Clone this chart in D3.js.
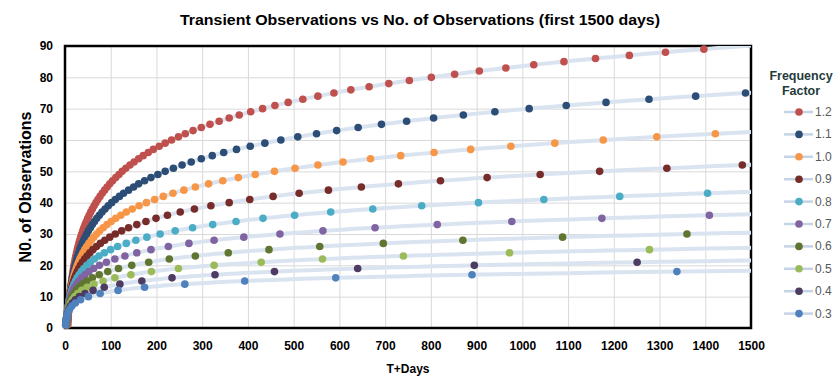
<!DOCTYPE html>
<html>
<head>
<meta charset="utf-8">
<script src="https://cdn.jsdelivr.net/npm/d3@7"></script>
<style>
  body { margin: 0; background: #fff; }
  text { font-family: "Liberation Sans", Arial, sans-serif; }
</style>
</head>
<body>
<svg id="chart" width="837" height="388"></svg>
<script>
// frequency factors (legend order) and their marker colours
const factors = ["1.2", "1.1", "1.0", "0.9", "0.8", "0.7", "0.6", "0.5", "0.4", "0.3"];
const colors = ["#c0504d", "#2c4d75", "#f79646", "#772c2a", "#4bacc6",
                "#8064a2", "#5f7530", "#9bbb59", "#4d3b62", "#4f81bd"];

// day (T+) of the 1st, 2nd, 3rd ... observation for each factor
const days12 = [6.1,6.5,6.9,7.3,7.8,8.3,8.8,9.4,10.0,10.6,11.3,12.0,12.7,13.6,14.4,15.3,16.3,17.4,18.5,19.6,
  20.9,22.2,23.6,25.1,26.8,28.5,30.3,32.2,34.3,36.4,38.8,41.2,43.9,46.7,49.6,52.8,56.2,59.7,63.6,67.6,
  71.9,76.5,81.4,86.6,92.1,97.9,104,111,118,125,133,142,151,161,171,182,193,206,219,233,
  248,263,280,298,317,337,359,381,406,432,459,488,520,553,588,625,665,708,753,801,
  852,906,964,1025,1091,1160,1234,1313,1397];
const days11 = [5.1,5.6,6.0,6.5,7.0,7.5,8.1,8.8,9.5,10.2,11.1,11.9,12.9,13.9,15.0,16.2,17.5,18.9,20.4,22.0,
  23.8,25.7,27.7,29.9,32.3,34.9,37.7,40.7,43.9,47.4,51.2,55.3,59.7,64.4,69.5,75.1,81.0,87.5,94.5,102,
  110,119,128,139,150,161,174,188,203,219,237,256,276,298,322,347,375,405,437,472,
  509,550,594,641,692,747,806,871,940,1015,1096,1183,1277,1379,1488];
const days10 = [4.5,4.9,5.4,5.9,6.5,7.2,7.9,8.6,9.5,10.4,11.5,12.6,13.9,15.2,16.8,18.4,20.2,22.2,24.5,26.9,
  29.5,32.5,35.7,39.2,43.1,47.4,52.1,57.2,62.9,69.1,76.0,83.5,91.8,101,111,122,134,147,162,178,
  196,215,236,260,285,314,345,379,416,458,503,553,608,668,734,807,887,975,1071,1177,1294,1422];
const days09 = [3.6,4.0,4.5,5.1,5.7,6.5,7.3,8.2,9.2,10.4,11.7,13.1,14.8,16.6,18.7,21.1,23.7,26.7,30.0,33.8,
  38.0,42.8,48.2,54.2,61.0,68.7,77.3,86.9,97.9,110,124,139,157,177,199,224,252,283,319,359,
  404,455,512,576,648,729,821,923,1039,1169,1316,1481];
const days08 = [2.9,3.4,3.9,4.5,5.3,6.1,7.1,8.2,9.5,11.0,12.7,14.7,17.1,19.8,22.9,26.5,30.7,35.6,41.2,47.7,
  55.3,64.1,74.2,86.0,99.6,115,134,155,179,208,241,279,323,374,433,502,581,673,780,904,1047,1213,1405];
const days07 = [2.3,2.8,3.4,4.0,4.8,5.8,7.0,8.4,10.1,12.1,14.5,17.4,20.9,25.2,30.2,36.3,43.6,52.3,62.8,75.4,
  90.5,109,131,157,188,226,271,326,391,470,564,678,814,977,1174,1409];
const days06 = [2.1,2.6,3.3,4.1,5.1,6.4,8.0,10.0,12.5,15.7,19.6,24.5,30.6,38.3,47.8,59.8,74.8,93.5,117,146,
  183,228,285,357,446,557,696,870,1088,1360];
const days05 = [1.8,2.4,3.1,4.1,5.4,7.1,9.4,12.3,16.2,21.3,27.9,36.7,48.2,63.4,83.3,109,144,189,248,326,
  429,563,740,972,1278];
const days04 = [1.5,2.2,3.0,4.2,5.9,8.2,11.5,16.1,22.5,31.4,43.9,61.4,85.8,120,168,234,328,458,640,895,1251];
const days03 = [1.3,2.0,2.9,4.4,6.7,10.0,15.0,22.6,34.0,51.2,76.9,116,174,262,393,592,890,1338];

const dayLists = [days12, days11, days10, days09, days08, days07, days06, days05, days04, days03];

let series = factors.map(function(f, i){
  return {
    factor: f,
    color: colors[i],
    points: dayLists[i].map(function(t, j){ return {t: t, n: j + 1}; })
  };
});

const svg = d3.select("#chart");
const margin = {left: 65, right: 86, top: 46, bottom: 60};
const width = 837 - margin.left - margin.right;
const height = 388 - margin.top - margin.bottom;

let x = d3.scaleLinear().domain([0, 1500]).range([margin.left, margin.left + width]);
let y = d3.scaleLinear().domain([0, 90]).range([margin.top + height, margin.top]);

svg.append("defs").append("clipPath").attr("id", "plotClip")
  .append("rect")
    .attr("x", margin.left).attr("y", margin.top)
    .attr("width", width).attr("height", height);

// gridlines
svg.append("g")
    .attr("transform", "translate(0," + (margin.top + height) + ")")
    .call(d3.axisBottom(x).ticks(15).tickSize(-height).tickFormat(""))
    .call(function(g){ g.select(".domain").remove(); })
    .selectAll("line").attr("stroke", "#d9d9d9");
svg.append("g")
    .attr("transform", "translate(" + margin.left + ",0)")
    .call(d3.axisLeft(y).ticks(9).tickSize(-width).tickFormat(""))
    .call(function(g){ g.select(".domain").remove(); })
    .selectAll("line").attr("stroke", "#d9d9d9");

// tick labels
let xAxis = svg.append("g")
    .attr("transform", "translate(0," + (margin.top + height) + ")")
    .call(d3.axisBottom(x).ticks(15).tickSize(0).tickPadding(13).tickFormat(d3.format("d")));
xAxis.select(".domain").remove();
xAxis.selectAll("text")
    .style("font-family", "'Liberation Sans', Arial, sans-serif")
    .style("font-size", "12px").style("font-weight", "bold").attr("fill", "#000");

let yAxis = svg.append("g")
    .attr("transform", "translate(" + margin.left + ",0)")
    .call(d3.axisLeft(y).ticks(9).tickSize(0).tickPadding(12));
yAxis.select(".domain").remove();
yAxis.selectAll("text")
    .style("font-family", "'Liberation Sans', Arial, sans-serif")
    .style("font-size", "12px").style("font-weight", "bold").attr("fill", "#000");

// plot frame
svg.append("rect")
    .attr("x", margin.left).attr("y", margin.top)
    .attr("width", width).attr("height", height)
    .attr("fill", "none").attr("stroke", "#000").attr("stroke-width", 2.5);

// logarithmic trendline per series (least squares, like the spreadsheet)
function logFit(pts){
  let n = pts.length, sx = 0, sy = 0, sxx = 0, sxy = 0;
  pts.forEach(function(p){
    let lx = Math.log(p.t);
    sx += lx; sy += p.n; sxx += lx * lx; sxy += lx * p.n;
  });
  let c = (n * sxy - sx * sy) / (n * sxx - sx * sx);
  let b = (sy - c * sx) / n;
  return function(t){ return c * Math.log(t) + b; };
}

const trendColor = "#dae4f1";
let lineGen = d3.line().x(function(d){ return x(d[0]); }).y(function(d){ return y(d[1]); });

let trends = svg.append("g").attr("clip-path", "url(#plotClip)");
series.forEach(function(s){
  let f = logFit(s.points);
  let t0 = s.points[0].t, t1 = 1500;
  let samples = d3.range(0, 201).map(function(i){
    let t = t0 * Math.pow(t1 / t0, i / 200);
    return [t, f(t)];
  });
  trends.append("path")
      .attr("d", lineGen(samples))
      .attr("fill", "none")
      .attr("stroke", trendColor)
      .attr("stroke-width", 4);
});

// markers
series.forEach(function(s){
  svg.append("g").selectAll("circle")
    .data(s.points)
    .enter().append("circle")
      .attr("cx", function(d){ return x(d.t); })
      .attr("cy", function(d){ return y(d.n); })
      .attr("r", 3.8)
      .attr("fill", s.color);
});

// titles
svg.append("text")
    .attr("x", 420).attr("y", 25)
    .attr("text-anchor", "middle")
    .attr("textLength", 480).attr("lengthAdjust", "spacingAndGlyphs")
    .style("font-size", "15px").style("font-weight", "bold")
    .text("Transient Observations vs No. of Observations (first 1500 days)");

svg.append("text")
    .attr("transform", "translate(31," + (margin.top + height / 2) + ") rotate(-90)")
    .attr("text-anchor", "middle")
    .attr("textLength", 151).attr("lengthAdjust", "spacingAndGlyphs")
    .style("font-size", "16px").style("font-weight", "bold")
    .text("N0. of Observations");

svg.append("text")
    .attr("x", margin.left + width / 2).attr("y", 373)
    .attr("text-anchor", "middle")
    .style("font-size", "12px").style("font-weight", "bold")
    .text("T+Days");

// legend
let legend = svg.append("g");
legend.append("text")
    .attr("x", 801).attr("y", 80)
    .attr("text-anchor", "middle").attr("fill", "#243b3b")
    .style("font-size", "12.5px").style("font-weight", "bold")
    .text("Frequency");
legend.append("text")
    .attr("x", 801).attr("y", 95)
    .attr("text-anchor", "middle").attr("fill", "#243b3b")
    .style("font-size", "12.5px").style("font-weight", "bold")
    .text("Factor");

let items = legend.selectAll("g.item")
  .data(series)
  .enter().append("g")
    .attr("class", "item")
    .attr("transform", function(d, i){ return "translate(0," + (112 + i * 22.4) + ")"; });
items.append("line")
    .attr("x1", 784).attr("x2", 813)
    .attr("stroke", "#c5d3e6").attr("stroke-width", 2.5);
items.append("circle")
    .attr("cx", 799).attr("r", 3.8)
    .attr("fill", function(d){ return d.color; });
items.append("text")
    .attr("x", 815).attr("y", 4)
    .attr("fill", "#595959")
    .style("font-size", "12px")
    .text(function(d){ return d.factor; });
</script>
</body>
</html>
